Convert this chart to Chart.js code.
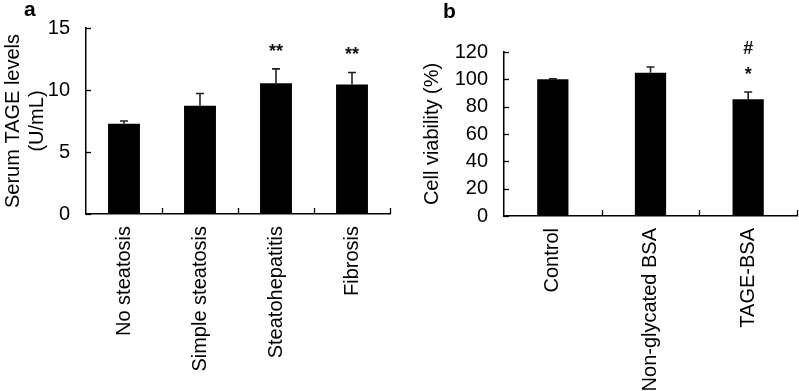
<!DOCTYPE html>
<html>
<head>
<meta charset="utf-8">
<script src="https://cdn.jsdelivr.net/npm/chart.js@4.4.1/dist/chart.umd.min.js"></script>
<style>
  body { margin: 0; background: #fff; }
  .painel { position: absolute; top: 0; }
  .rotulo { position: absolute; font: bold 21px "Liberation Sans", Arial, sans-serif; }
</style>
</head>
<body>
<div class="painel" style="left:0"><canvas id="graficoA" width="400" height="391"></canvas></div>
<div class="painel" style="left:400px"><canvas id="graficoB" width="399" height="391"></canvas></div>
<div class="rotulo" style="left:24px;top:-3px">a</div>
<div class="rotulo" style="left:443px;top:-1px">b</div>
<script>
// Painel a: TAGE sérico
const gruposA = ["No steatosis", "Simple steatosis", "Steatohepatitis", "Fibrosis"];
const mediasA = [7.28, 8.72, 10.55, 10.45];
const errosA = [0.22, 1.0, 1.15, 0.96];
const marcasA = [[], [], ["**"], ["**"]];
const ticksA = [0, 5, 10, 15];

// Painel b: viabilidade celular
const gruposB = ["Control", "Non-glycated BSA", "TAGE-BSA"];
const mediasB = [100, 104.8, 85.5];
const errosB = [0.3, 4.2, 5.2];
const marcasB = [[], [], ["*", "#"]];
const ticksB = [0, 20, 40, 60, 80, 100, 120];

Chart.defaults.font.family = "'Liberation Sans', Arial, sans-serif";
Chart.defaults.color = "#000";

// barras de erro, marcas de significância e ticks para dentro
const extras = {
    id: "extras",
    afterDatasetsDraw(chart, args, opts) {
        const ctx = chart.ctx;
        const x = chart.scales.x, y = chart.scales.y;
        const area = chart.chartArea;
        const meta = chart.getDatasetMeta(0);
        ctx.save();
        ctx.strokeStyle = "#000";
        ctx.lineWidth = 1.3;
        // ticks do eixo y
        opts.ticks.forEach(v => {
            const py = Math.round(y.getPixelForValue(v)) + 0.5;
            ctx.beginPath();
            ctx.moveTo(area.left, py);
            ctx.lineTo(area.left + 5, py);
            ctx.stroke();
        });
        // ticks entre categorias
        opts.medias.forEach((m, i) => {
            const px = Math.round(x.getPixelForValue(i + 0.5)) + 0.5;
            ctx.beginPath();
            ctx.moveTo(px, area.bottom);
            ctx.lineTo(px, area.bottom - 6);
            ctx.stroke();
        });
        // barras de erro (só para cima)
        ctx.strokeStyle = "#222";
        ctx.lineWidth = 1.6;
        opts.medias.forEach((m, i) => {
            const px = meta.data[i].x;
            const topo = y.getPixelForValue(m + opts.erros[i]);
            const base = y.getPixelForValue(m);
            ctx.beginPath();
            ctx.moveTo(px, base);
            ctx.lineTo(px, topo);
            ctx.moveTo(px - 4, topo);
            ctx.lineTo(px + 4, topo);
            ctx.stroke();
            ctx.fillStyle = "#111";
            ctx.font = "bold 18px 'Liberation Sans', Arial, sans-serif";
            ctx.textAlign = "center";
            ctx.textBaseline = "middle";
            opts.marcas[i].forEach((t, k) => {
                ctx.fillText(t, px, topo - 17 - k * 26);
            });
        });
        ctx.restore();
    }
};

function montarGrafico(id, grupos, medias, erros, marcas, ticks, titulo, cfg) {
    return new Chart(document.getElementById(id), {
        type: "bar",
        data: {
            labels: grupos,
            datasets: [{
                data: medias,
                backgroundColor: "#000",
                borderWidth: 0,
                categoryPercentage: 1,
                barPercentage: cfg.barra
            }]
        },
        options: {
            responsive: false,
            animation: false,
            layout: { padding: { top: cfg.topo, right: cfg.direita, left: 0, bottom: 0 } },
            plugins: {
                legend: { display: false },
                tooltip: { enabled: false },
                extras: { medias: medias, erros: erros, marcas: marcas, ticks: ticks }
            },
            scales: {
                x: {
                    grid: { display: false, drawTicks: false },
                    border: { display: true, color: "#000", width: 1.5 },
                    ticks: { font: { size: 20 }, minRotation: 90, maxRotation: 90, padding: 12, autoSkip: false },
                    afterFit: s => { s.height = cfg.alturaX; }
                },
                y: {
                    min: ticks[0],
                    max: ticks[ticks.length - 1],
                    afterBuildTicks: s => { s.ticks = ticks.map(v => ({ value: v })); },
                    grid: { display: false, drawTicks: false },
                    border: { display: true, color: "#000", width: 1.5 },
                    ticks: { font: { size: 20 }, padding: 16 },
                    title: { display: true, text: titulo, font: { size: 20 }, padding: { top: cfg.tituloPad, bottom: 0 } },
                    afterFit: s => { s.width = cfg.larguraY; }
                }
            }
        },
        plugins: [extras]
    });
}

montarGrafico("graficoA", gruposA, mediasA, errosA, marcasA, ticksA,
    ["Serum TAGE levels", "(U/mL)"],
    { barra: 0.42, topo: 23, direita: 10, alturaX: 177, larguraY: 86, tituloPad: 1 });

montarGrafico("graficoB", gruposB, mediasB, errosB, marcasB, ticksB,
    "Cell viability (%)",
    { barra: 0.32, topo: 52, direita: 2, alturaX: 175, larguraY: 104, tituloPad: 20 });
</script>
</body>
</html>
